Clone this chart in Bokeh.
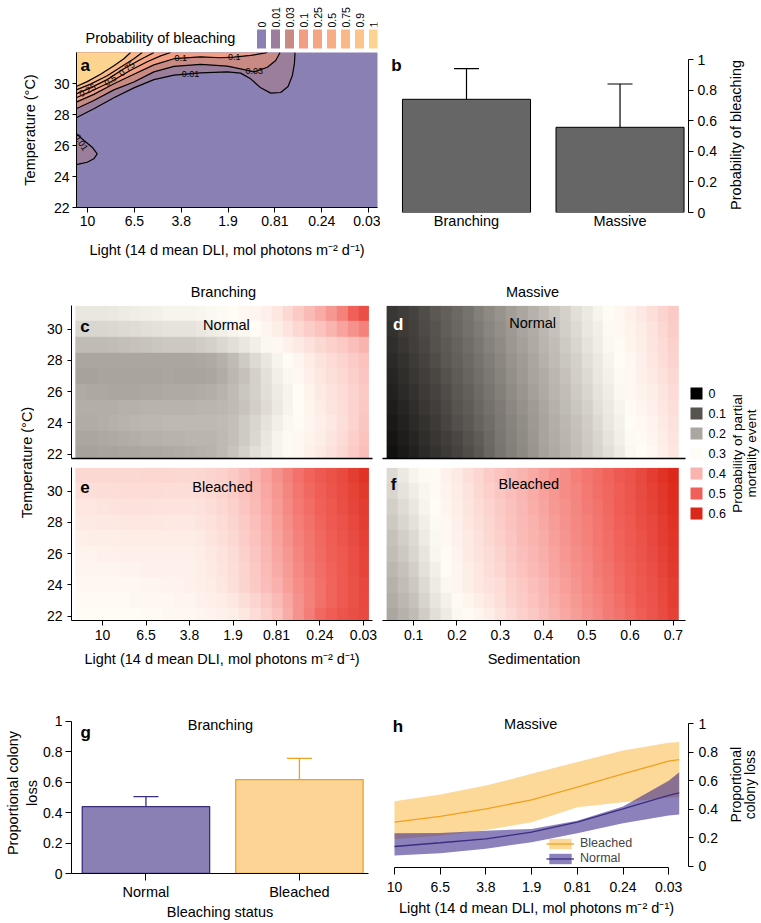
import numpy as np
from bokeh.plotting import figure
from bokeh.layouts import row, column
from bokeh.models import (Range1d, LinearAxis, FixedTicker, LinearColorMapper, Label,
                          Whisker, TeeHead, ColumnDataSource, Legend, LegendItem)
from bokeh.embed import file_html
from bokeh.resources import INLINE
from bokeh.core.properties import value

FONT = "Liberation Sans"
FS = "14.5px"     # axis titles, panel texts
FS_T = "14px"     # tick labels
FS_L = "12.5px"   # legend entries

# ---------------- data ----------------
light_labels = ["10", "6.5", "3.8", "1.9", "0.81", "0.24", "0.03"]
temp_ticks = [22, 24, 26, 28, 30]
sed_ticks = [0.1, 0.2, 0.3, 0.4, 0.5, 0.6, 0.7]
prob_ticks = [0, 0.2, 0.4, 0.6, 0.8, 1]
prob_labels = {0: "0", 0.2: "0.2", 0.4: "0.4", 0.6: "0.6", 0.8: "0.8", 1: "1"}

# panel a : probability of bleaching contours (x = light position index, y = temperature)
bleach_levels = ["0", "0.01", "0.03", "0.1", "0.25", "0.5", "0.75", "0.9", "1"]
bleach_colors = ["#8b80b4", "#9b7e9c", "#c98a84", "#f19e83", "#f4a683",
                 "#f7ae84", "#f9b886", "#fcc48a", "#fdd390"]
c001_x = [-0.24, 0.135, 0.563, 0.99, 1.417, 1.845, 2.415, 2.985, 3.269, 3.483, 3.697, 3.911, 4.124, 4.281, 4.373, 4.416, 4.43]
c001_y = [27.79, 28.37, 29.08, 29.72, 30.25, 30.54, 30.69, 30.75, 30.67, 30.30, 29.72, 29.38, 29.42, 29.81, 30.52, 31.27, 32.0]
c003_x = [-0.24, 0.135, 0.563, 0.99, 1.417, 1.845, 2.415, 2.985, 3.341, 3.555, 3.839, 4.017, 4.11]
c003_y = [28.37, 28.90, 29.59, 30.10, 30.75, 31.10, 31.23, 31.12, 30.90, 30.75, 31.05, 31.48, 32.0]
c01_x = [-0.24, 0.135, 0.563, 0.99, 1.417, 1.845, 2.415, 2.842, 3.127, 3.483, 3.768, 3.839]
c01_y = [28.80, 29.30, 29.98, 30.60, 31.20, 31.60, 31.72, 31.66, 31.70, 31.81, 31.96, 32.0]
c025_x = [-0.24, 0.064, 0.491, 0.919, 1.275, 1.56, 1.774]
c025_y = [29.08, 29.48, 30.10, 30.85, 31.40, 31.78, 32.0]
c05_x = [-0.24, 0.064, 0.42, 0.776, 1.132, 1.42]
c05_y = [29.33, 29.72, 30.25, 30.95, 31.55, 32.0]
c075_x = [-0.24, 0.064, 0.42, 0.705, 0.99, 1.168]
c075_y = [29.59, 29.96, 30.50, 31.05, 31.60, 32.0]
c09_x = [-0.24, -0.007, 0.278, 0.563, 0.776, 0.919]
c09_y = [29.81, 30.12, 30.60, 31.15, 31.60, 32.0]
lobe_x = [-0.24, -0.075, 0.10, 0.207, 0.135, -0.007, -0.24]
lobe_y = [26.76, 26.32, 25.89, 25.46, 25.14, 24.92, 24.77]

# panel b
b_cats = ["Branching", "Massive"]
b_vals = [0.74, 0.557]
b_lo = [0.42, 0.26]
b_hi = [0.94, 0.84]

# panels c-f : probability of partial mortality; rows T=31 (top) ... T=22 (bottom)
grid_light = [-0.5 + 0.25 * i for i in range(27)]      # light position index
grid_sed = [0.05 + 0.025 * i for i in range(27)]       # sedimentation
grid_temp = [31, 30, 29, 28, 27, 26, 25, 24, 23, 22]
c_grid = [
    [0.275,0.275,0.275,0.278,0.28,0.283,0.285,0.288,0.29,0.29,0.29,0.293,0.295,0.298,0.30,0.304,0.31,0.318,0.33,0.35,0.37,0.39,0.41,0.435,0.46,0.50,0.53],
    [0.255,0.255,0.255,0.258,0.26,0.263,0.265,0.268,0.27,0.27,0.27,0.275,0.28,0.285,0.29,0.295,0.30,0.31,0.32,0.335,0.35,0.365,0.38,0.40,0.42,0.44,0.46],
    [0.225,0.225,0.225,0.228,0.23,0.233,0.235,0.238,0.24,0.24,0.24,0.245,0.25,0.257,0.265,0.275,0.285,0.295,0.305,0.315,0.325,0.337,0.35,0.36,0.37,0.385,0.40],
    [0.20,0.20,0.20,0.20,0.20,0.20,0.20,0.20,0.20,0.20,0.20,0.202,0.205,0.213,0.225,0.242,0.26,0.276,0.29,0.30,0.31,0.322,0.335,0.345,0.355,0.368,0.38],
    [0.195,0.196,0.197,0.197,0.198,0.198,0.198,0.199,0.20,0.199,0.198,0.199,0.20,0.208,0.22,0.234,0.25,0.268,0.285,0.295,0.305,0.318,0.33,0.34,0.35,0.362,0.375],
    [0.205,0.204,0.203,0.201,0.20,0.201,0.202,0.203,0.205,0.205,0.205,0.207,0.21,0.216,0.225,0.237,0.25,0.265,0.28,0.29,0.30,0.312,0.325,0.335,0.345,0.357,0.37],
    [0.21,0.21,0.21,0.211,0.212,0.213,0.215,0.215,0.216,0.216,0.216,0.217,0.218,0.22,0.225,0.235,0.248,0.263,0.278,0.29,0.30,0.311,0.322,0.332,0.343,0.357,0.372],
    [0.207,0.208,0.21,0.212,0.215,0.218,0.22,0.221,0.222,0.222,0.222,0.222,0.222,0.225,0.23,0.242,0.255,0.27,0.285,0.295,0.303,0.31,0.318,0.328,0.34,0.357,0.375],
    [0.20,0.201,0.203,0.205,0.208,0.21,0.212,0.213,0.215,0.216,0.217,0.217,0.218,0.222,0.23,0.243,0.258,0.275,0.29,0.298,0.305,0.312,0.32,0.332,0.345,0.362,0.38],
    [0.195,0.196,0.197,0.198,0.20,0.201,0.203,0.204,0.205,0.207,0.21,0.212,0.215,0.223,0.235,0.25,0.265,0.278,0.29,0.298,0.305,0.315,0.325,0.337,0.35,0.367,0.385],
]
e_grid = [
    [0.35,0.35,0.35,0.35,0.35,0.351,0.352,0.352,0.352,0.351,0.35,0.352,0.355,0.36,0.37,0.384,0.40,0.42,0.44,0.46,0.48,0.495,0.51,0.525,0.54,0.56,0.58],
    [0.34,0.341,0.342,0.343,0.345,0.345,0.345,0.344,0.343,0.342,0.342,0.345,0.35,0.356,0.365,0.379,0.395,0.415,0.435,0.455,0.475,0.49,0.505,0.52,0.535,0.552,0.57],
    [0.33,0.331,0.333,0.335,0.337,0.337,0.337,0.336,0.335,0.335,0.335,0.338,0.343,0.35,0.36,0.374,0.39,0.41,0.43,0.45,0.47,0.485,0.50,0.515,0.53,0.547,0.565],
    [0.325,0.326,0.327,0.328,0.33,0.33,0.33,0.329,0.328,0.328,0.328,0.332,0.337,0.345,0.355,0.369,0.385,0.405,0.425,0.445,0.465,0.48,0.495,0.51,0.525,0.542,0.56],
    [0.318,0.319,0.32,0.321,0.323,0.323,0.323,0.322,0.322,0.322,0.322,0.326,0.332,0.34,0.35,0.364,0.38,0.40,0.42,0.44,0.46,0.475,0.49,0.505,0.52,0.537,0.555],
    [0.313,0.313,0.314,0.315,0.317,0.317,0.318,0.318,0.318,0.318,0.318,0.322,0.328,0.335,0.345,0.359,0.375,0.395,0.415,0.435,0.455,0.471,0.487,0.501,0.515,0.532,0.55],
    [0.31,0.31,0.31,0.311,0.312,0.313,0.314,0.314,0.315,0.315,0.316,0.32,0.325,0.332,0.342,0.356,0.372,0.39,0.41,0.43,0.45,0.467,0.483,0.497,0.512,0.53,0.548],
    [0.305,0.305,0.305,0.306,0.307,0.308,0.31,0.311,0.312,0.313,0.314,0.317,0.322,0.33,0.34,0.354,0.37,0.387,0.405,0.425,0.445,0.463,0.48,0.495,0.51,0.527,0.545],
    [0.302,0.302,0.302,0.302,0.303,0.304,0.305,0.306,0.308,0.31,0.311,0.314,0.318,0.323,0.33,0.342,0.356,0.372,0.39,0.415,0.44,0.46,0.48,0.495,0.51,0.526,0.542],
    [0.30,0.30,0.30,0.30,0.30,0.301,0.302,0.303,0.305,0.306,0.308,0.31,0.312,0.316,0.32,0.33,0.345,0.36,0.38,0.41,0.44,0.465,0.49,0.505,0.52,0.53,0.54],
]
d_grid = [
    [0.065,0.073,0.082,0.094,0.106,0.116,0.126,0.139,0.152,0.165,0.178,0.190,0.201,0.213,0.225,0.238,0.251,0.265,0.278,0.290,0.300,0.307,0.315,0.327,0.340,0.355,0.370],
    [0.060,0.070,0.079,0.090,0.102,0.113,0.123,0.135,0.148,0.161,0.174,0.186,0.197,0.209,0.221,0.234,0.247,0.260,0.274,0.286,0.297,0.305,0.312,0.323,0.336,0.350,0.365],
    [0.056,0.066,0.076,0.086,0.098,0.109,0.119,0.131,0.143,0.156,0.169,0.182,0.193,0.205,0.217,0.229,0.242,0.256,0.269,0.282,0.294,0.302,0.310,0.320,0.332,0.346,0.360],
    [0.051,0.061,0.071,0.081,0.093,0.105,0.115,0.126,0.138,0.151,0.164,0.177,0.189,0.201,0.213,0.225,0.238,0.251,0.264,0.278,0.291,0.300,0.308,0.318,0.329,0.342,0.355],
    [0.046,0.056,0.066,0.076,0.087,0.099,0.110,0.121,0.133,0.146,0.159,0.172,0.185,0.197,0.209,0.221,0.234,0.247,0.260,0.274,0.287,0.297,0.306,0.315,0.325,0.338,0.350],
    [0.042,0.051,0.061,0.071,0.082,0.094,0.105,0.116,0.128,0.141,0.154,0.167,0.180,0.193,0.205,0.217,0.229,0.242,0.255,0.269,0.283,0.294,0.304,0.313,0.321,0.333,0.345],
    [0.037,0.046,0.056,0.066,0.077,0.088,0.100,0.111,0.123,0.136,0.149,0.162,0.175,0.188,0.201,0.213,0.225,0.238,0.250,0.264,0.278,0.290,0.302,0.310,0.317,0.329,0.341],
    [0.032,0.041,0.051,0.061,0.072,0.083,0.095,0.106,0.118,0.131,0.145,0.158,0.171,0.185,0.199,0.210,0.221,0.234,0.246,0.260,0.274,0.287,0.300,0.307,0.313,0.325,0.337],
    [0.026,0.036,0.045,0.055,0.065,0.076,0.087,0.099,0.111,0.126,0.142,0.155,0.168,0.182,0.197,0.207,0.218,0.230,0.243,0.256,0.270,0.284,0.298,0.303,0.309,0.321,0.333],
    [0.020,0.030,0.040,0.050,0.060,0.071,0.082,0.094,0.106,0.123,0.140,0.152,0.165,0.180,0.195,0.205,0.215,0.228,0.240,0.253,0.266,0.281,0.295,0.300,0.305,0.318,0.330],
]
f_grid = [
    [0.261,0.277,0.290,0.297,0.303,0.314,0.326,0.340,0.353,0.366,0.379,0.390,0.400,0.413,0.425,0.437,0.448,0.461,0.473,0.484,0.494,0.508,0.522,0.540,0.559,0.578,0.596],
    [0.254,0.270,0.283,0.293,0.302,0.312,0.323,0.336,0.349,0.362,0.375,0.387,0.398,0.410,0.422,0.434,0.446,0.458,0.470,0.481,0.492,0.505,0.519,0.537,0.555,0.573,0.591],
    [0.247,0.263,0.276,0.289,0.300,0.310,0.320,0.332,0.345,0.357,0.370,0.383,0.395,0.406,0.418,0.431,0.443,0.455,0.466,0.478,0.490,0.503,0.516,0.533,0.550,0.568,0.586],
    [0.241,0.255,0.268,0.284,0.298,0.308,0.317,0.329,0.341,0.353,0.365,0.379,0.392,0.403,0.414,0.427,0.440,0.452,0.463,0.475,0.487,0.500,0.512,0.528,0.545,0.563,0.581],
    [0.234,0.248,0.261,0.279,0.296,0.306,0.315,0.326,0.337,0.349,0.361,0.375,0.389,0.400,0.410,0.424,0.437,0.449,0.460,0.472,0.484,0.497,0.509,0.525,0.541,0.559,0.577],
    [0.227,0.241,0.254,0.273,0.292,0.303,0.313,0.324,0.334,0.345,0.356,0.371,0.385,0.396,0.406,0.420,0.434,0.445,0.456,0.469,0.481,0.494,0.506,0.521,0.536,0.554,0.572],
    [0.221,0.234,0.247,0.267,0.286,0.299,0.311,0.321,0.331,0.342,0.352,0.366,0.380,0.391,0.402,0.416,0.430,0.442,0.453,0.466,0.478,0.490,0.502,0.517,0.531,0.549,0.567],
    [0.214,0.227,0.240,0.260,0.280,0.295,0.309,0.319,0.329,0.338,0.346,0.360,0.373,0.385,0.397,0.411,0.425,0.437,0.449,0.462,0.474,0.486,0.498,0.513,0.527,0.545,0.562],
    [0.207,0.220,0.232,0.252,0.272,0.287,0.302,0.311,0.320,0.330,0.340,0.354,0.367,0.380,0.392,0.406,0.420,0.433,0.445,0.458,0.470,0.482,0.494,0.508,0.522,0.540,0.558],
    [0.200,0.212,0.225,0.245,0.264,0.281,0.295,0.303,0.310,0.321,0.333,0.347,0.360,0.373,0.386,0.400,0.415,0.428,0.440,0.453,0.466,0.478,0.490,0.504,0.518,0.535,0.553],
]
mort_levels = [0, 0.1, 0.2, 0.3, 0.4, 0.5, 0.6]
mort_colors = ["#000000", "#57534f", "#aba69f", "#fffcf6", "#fab4b0", "#f06058", "#dc281a"]

# panel g
g_cats = ["Normal", "Bleached"]
g_vals = [0.44, 0.618]
g_lo = [0.368, 0.454]
g_hi = [0.506, 0.757]

# panel h
h_x = [0, 1, 2, 3, 4, 5, 6, 6.23]
h_bl_fit = [0.31, 0.35, 0.403, 0.466, 0.555, 0.648, 0.737, 0.748]
h_bl_hi = [0.457, 0.503, 0.566, 0.648, 0.73, 0.811, 0.865, 0.87]
h_bl_lo = [0.193, 0.215, 0.255, 0.31, 0.415, 0.45, 0.48, 0.485]
h_no_fit = [0.14, 0.166, 0.193, 0.24, 0.31, 0.403, 0.497, 0.515]
h_no_hi = [0.233, 0.235, 0.25, 0.263, 0.32, 0.42, 0.60, 0.66]
h_no_lo = [0.077, 0.093, 0.124, 0.17, 0.233, 0.303, 0.357, 0.364]

PURPLE_FILL = "#8b80b4"
PURPLE_LINE = "#3b2d80"
ORANGE_FILL = "#fdd495"
ORANGE_LINE = "#f0a21e"

# ---------------- helpers ----------------
def hex2rgb(h):
    return tuple(int(h[i:i + 2], 16) for i in (1, 3, 5))

def build_palette(levels, colors, n=241):
    rgb = [hex2rgb(c) for c in colors]
    out = []
    for k in range(n):
        v = levels[0] + (levels[-1] - levels[0]) * k / (n - 1)
        j = min(int((v - levels[0]) / (levels[1] - levels[0])), len(levels) - 2)
        t = (v - levels[j]) / (levels[j + 1] - levels[j])
        c = [round(rgb[j][m] + (rgb[j + 1][m] - rgb[j][m]) * t) for m in range(3)]
        out.append("#%02x%02x%02x" % tuple(c))
    return out

cmap = LinearColorMapper(palette=build_palette(mort_levels, mort_colors), low=0, high=0.6)

def mkfig(fw, fh, l, r, t, b, xr, yr):
    p = figure(frame_width=fw, frame_height=fh, x_range=xr, y_range=yr,
               x_axis_type=None, y_axis_type=None, toolbar_location=None,
               output_backend="svg", title=None)
    p.min_border_left = l
    p.min_border_right = r
    p.min_border_top = t
    p.min_border_bottom = b
    p.outline_line_color = None
    p.background_fill_color = "white"
    p.border_fill_color = "white"
    return p

def plainfig(w, h):
    p = figure(width=w, height=h, x_range=Range1d(0, w), y_range=Range1d(0, h),
               x_axis_type=None, y_axis_type=None, toolbar_location=None,
               output_backend="svg", title=None, min_border=0)
    p.outline_line_color = None
    return p

def add_axis(p, side, ticks, overrides=None, label=None, bounds=None, tick_out=5,
             standoff=4, label_standoff=10, line=True, tick_size=FS_T):
    ax = LinearAxis(ticker=FixedTicker(ticks=ticks))
    if label:
        ax.axis_label = label
    ax.axis_line_color = "black" if line else None
    ax.major_tick_line_color = "black" if tick_out > 0 else None
    ax.major_tick_in = 0
    ax.major_tick_out = tick_out
    ax.minor_tick_line_color = None
    ax.minor_tick_out = 0
    ax.major_label_text_font = FONT
    ax.major_label_text_font_size = tick_size
    ax.major_label_text_color = "black"
    ax.major_label_standoff = standoff
    ax.axis_label_text_font = FONT
    ax.axis_label_text_font_size = FS
    ax.axis_label_text_font_style = "normal"
    ax.axis_label_text_color = "black"
    ax.axis_label_standoff = label_standoff
    if overrides:
        ax.major_label_overrides = overrides
    if bounds:
        ax.bounds = bounds
    p.add_layout(ax, side)
    return ax

def blank_axis(p):
    ax = LinearAxis(ticker=FixedTicker(ticks=[]))
    ax.major_tick_out = 0
    ax.major_tick_in = 0
    ax.major_label_standoff = 0
    ax.minor_tick_out = 0
    ax.axis_line_color = "black"
    ax.axis_line_width = 1.3
    p.add_layout(ax, "below")

def lab(p, x, y, text, size=FS, bold=False, color="black", align="center", angle=0, baseline="middle"):
    p.add_layout(Label(x=x, y=y, text=text, text_font=FONT, text_font_size=size,
                       text_font_style="bold" if bold else "normal", text_color=color,
                       text_align=align, text_baseline=baseline, angle=angle))

def vtext(p, xs, y, texts, size=FS):
    p.text(x=xs, y=[y] * len(xs), text=texts, angle=np.pi / 2, text_align="center",
           text_baseline="middle", text_font=value(FONT), text_font_size=value(size), text_color="black")

def header(left, fw, right, x0, h, text, xc, yc):
    # strip above a panel; its frame lines up with the panel below (x in page px)
    p = figure(frame_width=fw, frame_height=h, x_range=Range1d(x0, x0 + fw), y_range=Range1d(0, h),
               x_axis_type=None, y_axis_type=None, toolbar_location=None, output_backend="svg",
               title=None, min_border=0)
    p.min_border_left = left
    p.min_border_right = right
    p.outline_line_color = None
    p.text(x=[xc], y=[yc], text=[text], text_align="center", text_baseline="middle",
           text_font=value(FONT), text_font_size=value(FS), text_color="black")
    return p

light_over = {i: s for i, s in enumerate(light_labels)}
LIGHT_LABEL = "Light (14 d mean DLI, mol photons m\u207b\u00b2 d\u207b\u00b9)"

# ---------------- panel a legend (frame aligned with panel a; x in page px) ----------------
legA = figure(frame_width=301, frame_height=52, x_range=Range1d(76, 377), y_range=Range1d(0, 52),
              x_axis_type=None, y_axis_type=None, toolbar_location=None, output_backend="svg",
              title=None, min_border=0)
legA.min_border_left = 76
legA.min_border_right = 3
legA.outline_line_color = None
sw_x = [261 + 14 * i for i in range(len(bleach_levels))]
legA.rect(x=sw_x, y=13.5, width=9, height=19, fill_color=bleach_colors, line_color=None)
legA.text(x=sw_x, y=25, text=bleach_levels, angle=np.pi / 2, text_align="left",
          text_baseline="middle", text_font=value(FONT), text_font_size=value("10.5px"),
          text_color="black")
legA.text(x=[85], y=[15], text=["Probability of bleaching"], text_align="left",
          text_baseline="middle", text_font=value(FONT), text_font_size=value(FS), text_color="black")

# ---------------- panel a ----------------
YTOP = 32.0
pa = mkfig(301, 155, 76, 3, 0, 55, Range1d(-0.235, 6.19), Range1d(22, YTOP))
pa.background_fill_color = bleach_colors[0]
contours = [(c001_x, c001_y, bleach_colors[1]), (c003_x, c003_y, bleach_colors[2]),
            (c01_x, c01_y, bleach_colors[3]), (c025_x, c025_y, bleach_colors[4]),
            (c05_x, c05_y, bleach_colors[5]), (c075_x, c075_y, bleach_colors[6]),
            (c09_x, c09_y, bleach_colors[8])]
for cx, cy, col in contours:
    pa.patch(x=cx + [cx[0]], y=cy + [YTOP], fill_color=col, line_color=None)
pa.patch(x=lobe_x, y=lobe_y, fill_color=bleach_colors[1], line_color=None)
for cx, cy, col in contours:
    pa.line(x=cx, y=cy, line_color="black", line_width=1.2)
pa.line(x=lobe_x, y=lobe_y, line_color="black", line_width=1.2)
for (x, y, t, ang) in [(2.2, 30.62, "0.01", 0), (3.56, 30.78, "0.03", 0), (1.99, 31.66, "0.1", 0),
                       (3.13, 31.72, "0.1", 0), (0.0, 29.55, "0.25", 0.5), (0.49, 30.2, "0.5", 0.6),
                       (0.84, 30.95, "0.75", 0.7), (-0.14, 26.2, "0.01", -1.0)]:
    lab(pa, x, y, t, size="9px", angle=ang)
lab(pa, -0.15, 31.16, "a", size="17px", bold=True, align="left")
add_axis(pa, "left", temp_ticks, label="Temperature (\u00b0C)", tick_out=4, standoff=3, label_standoff=13)
add_axis(pa, "below", list(range(7)), overrides=light_over, label=LIGHT_LABEL, tick_out=5,
         standoff=3, label_standoff=13)

# ---------------- panel b ----------------
pb = mkfig(298, 160, 10, 39, 52, 50, Range1d(0.505, 2.446), Range1d(0, 1.046))
bx = [i + 1 for i in range(len(b_cats))]
pb.vbar(x=bx, top=b_vals, bottom=0, width=0.834, fill_color="#666666", line_color="black", line_width=1)
wb = Whisker(source=ColumnDataSource(dict(x=bx, lo=b_lo, hi=b_hi)), base="x", lower="lo", upper="hi",
             line_color="black", line_width=1.2,
             upper_head=TeeHead(size=25, line_color="black", line_width=1.2),
             lower_head=TeeHead(size=25, line_color="black", line_width=1.2))
pb.add_layout(wb)
lab(pb, 0.51, 0.96, "b", size="17px", bold=True, align="left")
add_axis(pb, "right", prob_ticks, overrides=prob_labels, bounds=(0, 1), tick_out=5, standoff=4)
add_axis(pb, "below", bx, overrides={i + 1: s for i, s in enumerate(b_cats)}, tick_out=0,
         standoff=0, line=False, tick_size=FS)
bl = plainfig(34, 262)
vtext(bl, [8], 127, ["Probability of bleaching"])

# ---------------- panels c-f ----------------
TR = (21.72, 31.52)
LR = (-0.713, 6.207)
SR = (0.028, 0.728)
lstep = grid_light[1] - grid_light[0]
sstep = grid_sed[1] - grid_sed[0]
ly0 = grid_light[0] - lstep / 2
lw = grid_light[-1] - grid_light[0] + lstep
sx0 = grid_sed[0] - sstep / 2
sw = grid_sed[-1] - grid_sed[0] + sstep
ty0 = grid_temp[-1] - 0.5
th = grid_temp[0] - grid_temp[-1] + 1

hc = header(37, 301, 8, 71, 43, "Branching", 223, 14)
pc = mkfig(301, 153, 37, 8, 0, 4, Range1d(*LR), Range1d(*TR))
pc.image(image=[np.array(c_grid[::-1])], x=ly0, y=ty0, dw=lw, dh=th, color_mapper=cmap)
lab(pc, -0.51, 30.2, "c", size="17px", bold=True, align="left")
lab(pc, 2.85, 30.28, "Normal")
add_axis(pc, "left", temp_ticks, tick_out=4, standoff=5)
blank_axis(pc)

pe = mkfig(301, 153, 37, 8, 5, 52, Range1d(*LR), Range1d(*TR))
pe.image(image=[np.array(e_grid[::-1])], x=ly0, y=ty0, dw=lw, dh=th, color_mapper=cmap)
lab(pe, -0.51, 30.26, "e", size="17px", bold=True, align="left")
lab(pe, 2.76, 30.3, "Bleached")
add_axis(pe, "left", temp_ticks, tick_out=4, standoff=5)
add_axis(pe, "below", list(range(7)), overrides=light_over, label=LIGHT_LABEL, tick_out=5,
         standoff=4, label_standoff=8)

hd = header(2, 303, 3, 382, 43, "Massive", 532, 14)
pd_ = mkfig(303, 153, 2, 3, 0, 4, Range1d(*SR), Range1d(*TR))
pd_.image(image=[np.array(d_grid[::-1])], x=sx0, y=ty0, dw=sw, dh=th, color_mapper=cmap)
lab(pd_, 0.052, 30.3, "d", size="17px", bold=True, align="left", color="white")
lab(pd_, 0.375, 30.4, "Normal")
blank_axis(pd_)

pf = mkfig(303, 153, 2, 3, 5, 52, Range1d(*SR), Range1d(*TR))
pf.image(image=[np.array(f_grid[::-1])], x=sx0, y=ty0, dw=sw, dh=th, color_mapper=cmap)
lab(pf, 0.047, 30.45, "f", size="17px", bold=True, align="left")
lab(pf, 0.366, 30.45, "Bleached")
add_axis(pf, "below", sed_ticks, overrides={t: str(t) for t in sed_ticks}, label="Sedimentation",
         tick_out=5, standoff=4, label_standoff=8)

tl = plainfig(34, 410)
vtext(tl, [26], 210, ["Temperature (\u00b0C)"])

lg = plainfig(73, 410)
lg_y = [279 - 20 * i for i in range(len(mort_levels))]
lg.rect(x=8, y=lg_y, width=12, height=12, fill_color=mort_colors, line_color=None)
lg.text(x=20, y=lg_y, text=[str(v) for v in mort_levels], text_align="left", text_baseline="middle",
        text_font=value(FONT), text_font_size=value(FS_L), text_color="black")
vtext(lg, [49, 63], 219, ["Probability of partial", "mortality event"], size="13.5px")

# ---------------- panel g ----------------
pg = mkfig(297, 161, 71, 12, 38, 50, Range1d(0.515, 2.45), Range1d(0, 1.059))
gx = [i + 1 for i in range(len(g_cats))]
pg.vbar(x=gx, top=g_vals, bottom=0, width=0.83, fill_color=[PURPLE_FILL, ORANGE_FILL],
        line_color=[PURPLE_LINE, ORANGE_LINE], line_width=1.3)
for i, col in enumerate([PURPLE_LINE, ORANGE_LINE]):
    w = Whisker(source=ColumnDataSource(dict(x=[gx[i]], lo=[g_lo[i]], hi=[g_hi[i]])), base="x",
                lower="lo", upper="hi", line_color=col, line_width=1.3,
                upper_head=TeeHead(size=25, line_color=col, line_width=1.3),
                lower_head=TeeHead(size=25, line_color=col, line_width=1.3))
    pg.add_layout(w)
lab(pg, 0.573, 0.93, "g", size="17px", bold=True, align="left")
lab(pg, 1.485, 0.974, "Branching")
add_axis(pg, "left", prob_ticks, overrides=prob_labels, label="Proportional colony\nloss",
         bounds=(0, 1), tick_out=6, standoff=3, label_standoff=0)
add_axis(pg, "below", gx, overrides={i + 1: s for i, s in enumerate(g_cats)}, label="Bleaching status",
         tick_out=7, standoff=3, label_standoff=1, tick_size=FS)

# ---------------- panel h ----------------
ph = mkfig(304, 155, 4, 39, 40, 54, Range1d(-0.219, 6.433), Range1d(-0.007, 1.077))
vb = ph.varea(x=h_x, y1=h_bl_lo, y2=h_bl_hi, fill_color="#f9b233", fill_alpha=0.5)
lb = ph.line(x=h_x, y=h_bl_fit, line_color=ORANGE_LINE, line_width=1.3)
vn = ph.varea(x=h_x, y1=h_no_lo, y2=h_no_hi, fill_color="#3f2d8c", fill_alpha=0.6)
ln = ph.line(x=h_x, y=h_no_fit, line_color=PURPLE_LINE, line_width=1.3)
leg = Legend(items=[LegendItem(label="Bleached", renderers=[vb, lb]),
                    LegendItem(label="Normal", renderers=[vn, ln])],
             location=(162, 2))
leg.background_fill_alpha = 0
leg.border_line_color = None
leg.label_text_font = FONT
leg.label_text_font_size = FS_L
leg.glyph_width = 28
leg.glyph_height = 13
leg.label_height = 13
leg.spacing = 1
leg.padding = 0
leg.margin = 0
leg.label_standoff = 6
ph.add_layout(leg)
lab(ph, -0.04, 0.98, "h", size="17px", bold=True, align="left")
lab(ph, 2.98, 1.0, "Massive")
add_axis(ph, "right", prob_ticks, overrides=prob_labels, bounds=(0, 1), tick_out=5, standoff=5)
add_axis(ph, "below", list(range(7)), overrides=light_over, label=LIGHT_LABEL, bounds=(0, 6),
         tick_out=7, standoff=7, label_standoff=5)
hl = plainfig(34, 249)
vtext(hl, [8, 22], 133, ["Proportional", "colony loss"], size="14px")

# ---------------- layout ----------------
layout = column(
    row(column(legA, pa), pb, bl),
    row(tl, column(hc, pc, pe), column(hd, pd_, pf), lg),
    row(pg, ph, hl),
)

open("out.html", "w").write(file_html(layout, INLINE))
